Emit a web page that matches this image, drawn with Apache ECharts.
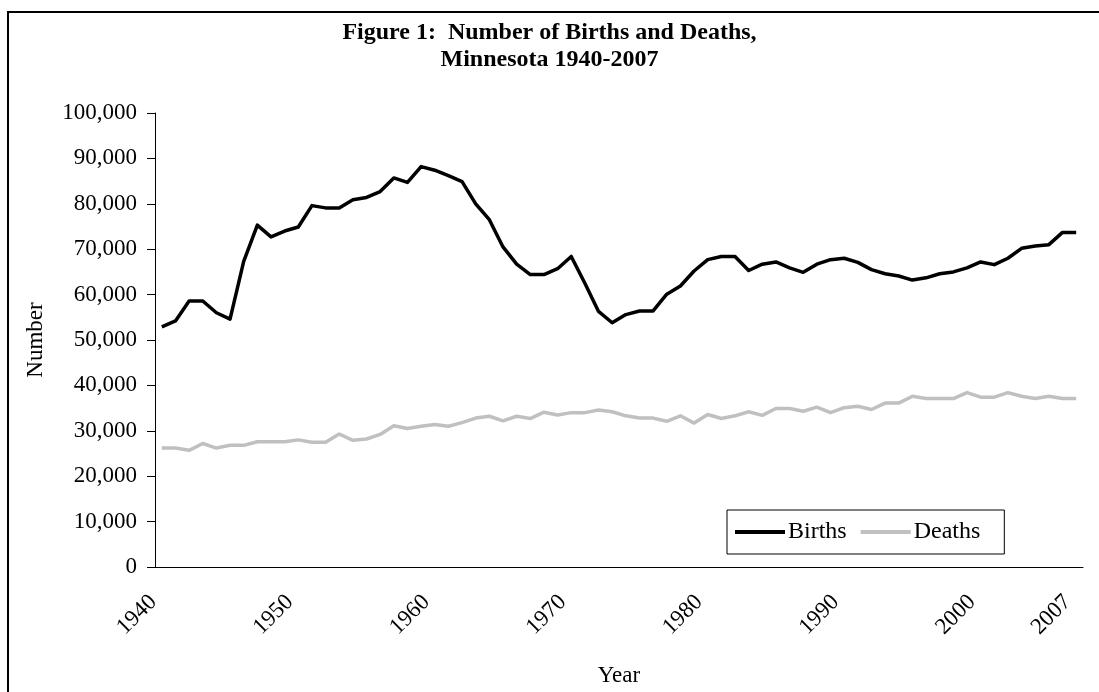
<!DOCTYPE html>
<html>
<head>
<meta charset="utf-8">
<title>Births and Deaths, Minnesota 1940-2007</title>
<script src="https://cdn.jsdelivr.net/npm/echarts@6/dist/echarts.min.js"></script>
<style>
  html, body { margin: 0; padding: 0; background: #fff; }
  #chart { width: 1099px; height: 692px; }
</style>
</head>
<body>
<div id="chart"></div>
<script>
var years = ['1940','1941','1942','1943','1944','1945','1946','1947','1948','1949',
    '1950','1951','1952','1953','1954','1955','1956','1957','1958','1959',
    '1960','1961','1962','1963','1964','1965','1966','1967','1968','1969',
    '1970','1971','1972','1973','1974','1975','1976','1977','1978','1979',
    '1980','1981','1982','1983','1984','1985','1986','1987','1988','1989',
    '1990','1991','1992','1993','1994','1995','1996','1997','1998','1999',
    '2000','2001','2002','2003','2004','2005','2006','2007'];

var births = [52900, 54200, 58600, 58600, 56000, 54600, 67300, 75300, 72700, 74000,
    74900, 79600, 79100, 79100, 80900, 81400, 82700, 85700, 84700, 88200,
    87400, 86200, 84900, 80000, 76500, 70500, 66700, 64400, 64400, 65700,
    68400, 62500, 56300, 53800, 55600, 56400, 56400, 60100, 61900, 65200,
    67700, 68400, 68400, 65300, 66700, 67200, 65900, 64900, 66700, 67700,
    68000, 67100, 65500, 64600, 64100, 63200, 63700, 64600, 65000, 65900,
    67200, 66600, 68000, 70200, 70700, 71000, 73700, 73700];

var deaths = [26200, 26200, 25700, 27200, 26200, 26800, 26800, 27600, 27600, 27600,
    28000, 27500, 27500, 29300, 27900, 28200, 29200, 31100, 30500, 31000,
    31400, 31000, 31800, 32800, 33200, 32200, 33200, 32700, 34100, 33500,
    34000, 34000, 34600, 34200, 33300, 32800, 32800, 32100, 33300, 31700,
    33600, 32700, 33300, 34200, 33400, 34900, 34900, 34300, 35200, 34000,
    35100, 35400, 34700, 36100, 36100, 37600, 37100, 37100, 37100, 38400,
    37400, 37400, 38400, 37600, 37100, 37600, 37100, 37100];

var shownYears = ['1940','1950','1960','1970','1980','1990','2000','2007'];

var serif = 'Liberation Serif';

var chart = echarts.init(document.getElementById('chart'), null, { renderer: 'canvas' });

chart.setOption({
    backgroundColor: '#fff',
    animation: false,
    graphic: [{
        type: 'rect',
        shape: { x: 8, y: 12, width: 1110, height: 700 },
        style: { fill: 'none', stroke: '#000', lineWidth: 2 },
        silent: true
    }],
    title: {
        text: 'Figure 1:  Number of Births and Deaths,\nMinnesota 1940-2007',
        left: 'center',
        top: 14,
        textStyle: {
            fontFamily: serif,
            fontWeight: 'bold',
            fontSize: 24,
            lineHeight: 27,
            color: '#000'
        }
    },
    legend: {
        data: ['Births', 'Deaths'],
        left: 727,
        top: 510,
        width: 280,
        height: 46,
        padding: [10, 24, 10, 8],
        itemGap: 14,
        icon: 'rect',
        itemWidth: 50,
        itemHeight: 4,
        borderColor: '#000',
        borderWidth: 1,
        textStyle: { fontFamily: serif, fontSize: 24, color: '#000', padding: [0, 0, 0, -2] }
    },
    grid: {
        left: 155,
        right: 16,
        top: 113,
        bottom: 114,
        containLabel: false
    },
    xAxis: {
        type: 'category',
        data: years,
        boundaryGap: true,
        name: 'Year',
        nameLocation: 'middle',
        nameGap: 97,
        nameTextStyle: { fontFamily: serif, fontSize: 23, color: '#000' },
        axisLine: { lineStyle: { color: '#000', width: 1 } },
        axisTick: { show: false },
        axisLabel: {
            interval: function (index, value) {
                return shownYears.indexOf(value) !== -1;
            },
            rotate: 45,
            margin: 23,
            padding: [0, 12, 0, 0],
            fontFamily: serif,
            fontSize: 23,
            color: '#000'
        },
        splitLine: { show: false }
    },
    yAxis: {
        type: 'value',
        min: 0,
        max: 100000,
        interval: 10000,
        name: 'Number',
        nameLocation: 'middle',
        nameRotate: 90,
        nameGap: 108,
        nameTextStyle: { fontFamily: serif, fontSize: 23, color: '#000' },
        axisLine: { show: true, lineStyle: { color: '#000', width: 1 } },
        axisTick: { show: true, inside: false, length: 8, lineStyle: { color: '#000' } },
        axisLabel: {
            margin: 18,
            fontFamily: serif,
            fontSize: 23,
            color: '#000',
            formatter: function (v) { return v.toLocaleString('en-US'); }
        },
        splitLine: { show: false }
    },
    series: [
        {
            name: 'Births',
            type: 'line',
            data: births,
            symbol: 'none',
            lineStyle: { color: '#000', width: 3.5, join: 'round' },
            itemStyle: { color: '#000' }
        },
        {
            name: 'Deaths',
            type: 'line',
            data: deaths,
            symbol: 'none',
            lineStyle: { color: '#c0c0c0', width: 3.5, join: 'round' },
            itemStyle: { color: '#c0c0c0' }
        }
    ]
});
</script>
</body>
</html>
